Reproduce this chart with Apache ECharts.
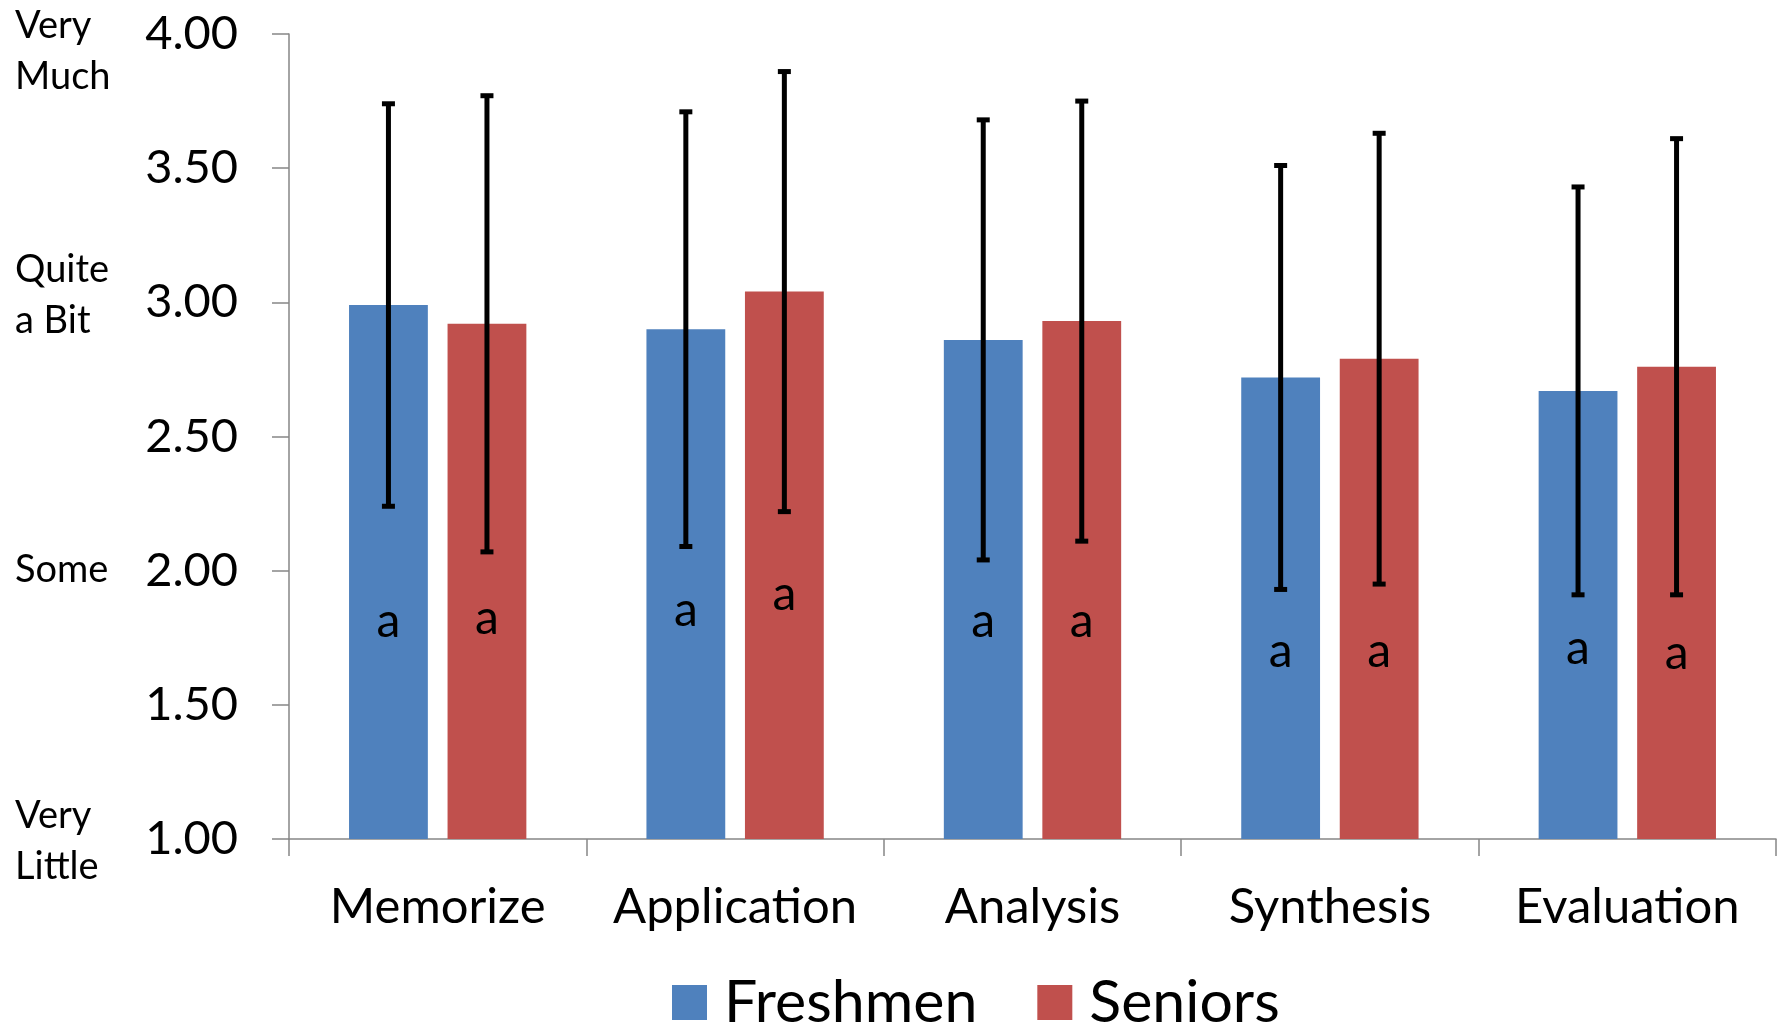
<!DOCTYPE html>
<html>
<head>
<meta charset="utf-8">
<script src="https://cdn.jsdelivr.net/npm/echarts@6/dist/echarts.min.js"></script>
<style>
html,body{margin:0;padding:0;background:#fff;}
#c{width:1783px;height:1024px;}
</style>
</head>
<body>
<div id="c"></div>
<script>
const categories = ['Memorize', 'Application', 'Analysis', 'Synthesis', 'Evaluation'];
const seriesNames = ['Freshmen', 'Seniors'];
const freshmenMean = [2.99, 2.90, 2.86, 2.72, 2.67];
const freshmenSD   = [0.75, 0.81, 0.82, 0.79, 0.76];
const seniorsMean  = [2.92, 3.04, 2.93, 2.79, 2.76];
const seniorsSD    = [0.85, 0.82, 0.82, 0.84, 0.85];
const freshmenLetter = ['a', 'a', 'a', 'a', 'a'];
const seniorsLetter  = ['a', 'a', 'a', 'a', 'a'];
const freshmenLetterAt = [1.81, 1.85, 1.81, 1.70, 1.71];
const seniorsLetterAt  = [1.82, 1.91, 1.81, 1.70, 1.69];
const levelValues = [4, 3, 2, 1];
const levelLabels = ['Very\nMuch', 'Quite\na Bit', 'Some', 'Very\nLittle'];

const FONT = 'Lato';
const BLUE = '#4F81BD', RED = '#C0504D', AXIS = '#868686';
const BAR_FRAC = 0.265, GAP_FRAC = 0.25;

function errData(means, sds, at, letters) {
  return means.map((m, i) => [i, m, sds[i], at[i], letters[i]]);
}
function makeErr(side) {
  return function (params, api) {
    const cat = api.value(0), mean = api.value(1), sd = api.value(2), ly = api.value(3);
    const letter = api.value(4);
    const cw = api.size([1, 0])[0];
    const bw = cw * BAR_FRAC, gap = bw * GAP_FRAC;
    const off = side * (bw + gap) / 2;
    const x = api.coord([cat, mean])[0] + off;
    const yT = api.coord([cat, mean + sd])[1];
    const yB = api.coord([cat, mean - sd])[1];
    const yl = api.coord([cat, ly])[1];
    const capW = 13, capH = 5;
    return {
      type: 'group',
      children: [
        {type: 'line', shape: {x1: x, y1: yT, x2: x, y2: yB}, style: {stroke: '#000', lineWidth: 5}},
        {type: 'rect', shape: {x: x - capW / 2, y: yT - capH / 2, width: capW, height: capH}, style: {fill: '#000'}},
        {type: 'rect', shape: {x: x - capW / 2, y: yB - capH / 2, width: capW, height: capH}, style: {fill: '#000'}},
        {type: 'text', x: x, y: yl, style: {text: letter, fontSize: 48, fontFamily: FONT, fill: '#000', align: 'center', verticalAlign: 'middle'}}
      ]
    };
  };
}

const chart = echarts.init(document.getElementById('c'), null, {renderer: 'canvas'});
chart.setOption({
  animation: false,
  backgroundColor: '#fff',
  grid: {left: 289, right: 7, top: 34, bottom: 185, containLabel: false},
  legend: {
    data: seriesNames,
    left: 667, top: 968,
    icon: 'rect', itemWidth: 35, itemHeight: 35, itemGap: 60,
    textStyle: {fontSize: 59, fontFamily: FONT, color: '#000', padding: [0, 0, 0, 12]}
  },
  xAxis: {
    type: 'category', data: categories,
    axisLine: {lineStyle: {color: AXIS, width: 1.5}},
    axisTick: {show: true, length: 17, interval: 0, lineStyle: {color: AXIS, width: 1.5}},
    axisLabel: {fontSize: 49, fontFamily: FONT, color: '#000', margin: 44, interval: 0}
  },
  yAxis: {
    type: 'value', min: 1, max: 4, interval: 0.5,
    splitLine: {show: false},
    axisLine: {show: true, lineStyle: {color: AXIS, width: 1.5}},
    axisTick: {show: true, length: 17, lineStyle: {color: AXIS, width: 1.5}},
    axisLabel: {fontSize: 47, fontFamily: FONT, color: '#000', margin: 51, formatter: v => v.toFixed(2)}
  },
  series: [
    {name: seriesNames[0], type: 'bar', data: freshmenMean, barWidth: (BAR_FRAC * 100) + '%', barGap: (GAP_FRAC * 100) + '%', itemStyle: {color: BLUE}},
    {name: seriesNames[1], type: 'bar', data: seniorsMean, barWidth: (BAR_FRAC * 100) + '%', barGap: (GAP_FRAC * 100) + '%', itemStyle: {color: RED}},
    {type: 'custom', renderItem: makeErr(-1), data: errData(freshmenMean, freshmenSD, freshmenLetterAt, freshmenLetter), encode: {x: 0, y: 1}, z: 5, silent: true},
    {type: 'custom', renderItem: makeErr(1), data: errData(seniorsMean, seniorsSD, seniorsLetterAt, seniorsLetter), encode: {x: 0, y: 1}, z: 5, silent: true}
  ]
});

const levelShift = {4: 17, 3: -7, 2: -1, 1: 2};
const LH = 51;
const graphics = levelValues.map((v, i) => {
  const y = chart.convertToPixel({yAxisIndex: 0}, v) + levelShift[v];
  const lines = levelLabels[i].split('\n').length;
  return {
    type: 'text', left: 15, top: y - lines * LH / 2,
    style: {text: levelLabels[i], fontSize: 38, fontFamily: FONT, fill: '#000', lineHeight: LH}
  };
});
chart.setOption({graphic: graphics});
</script>
</body>
</html>
